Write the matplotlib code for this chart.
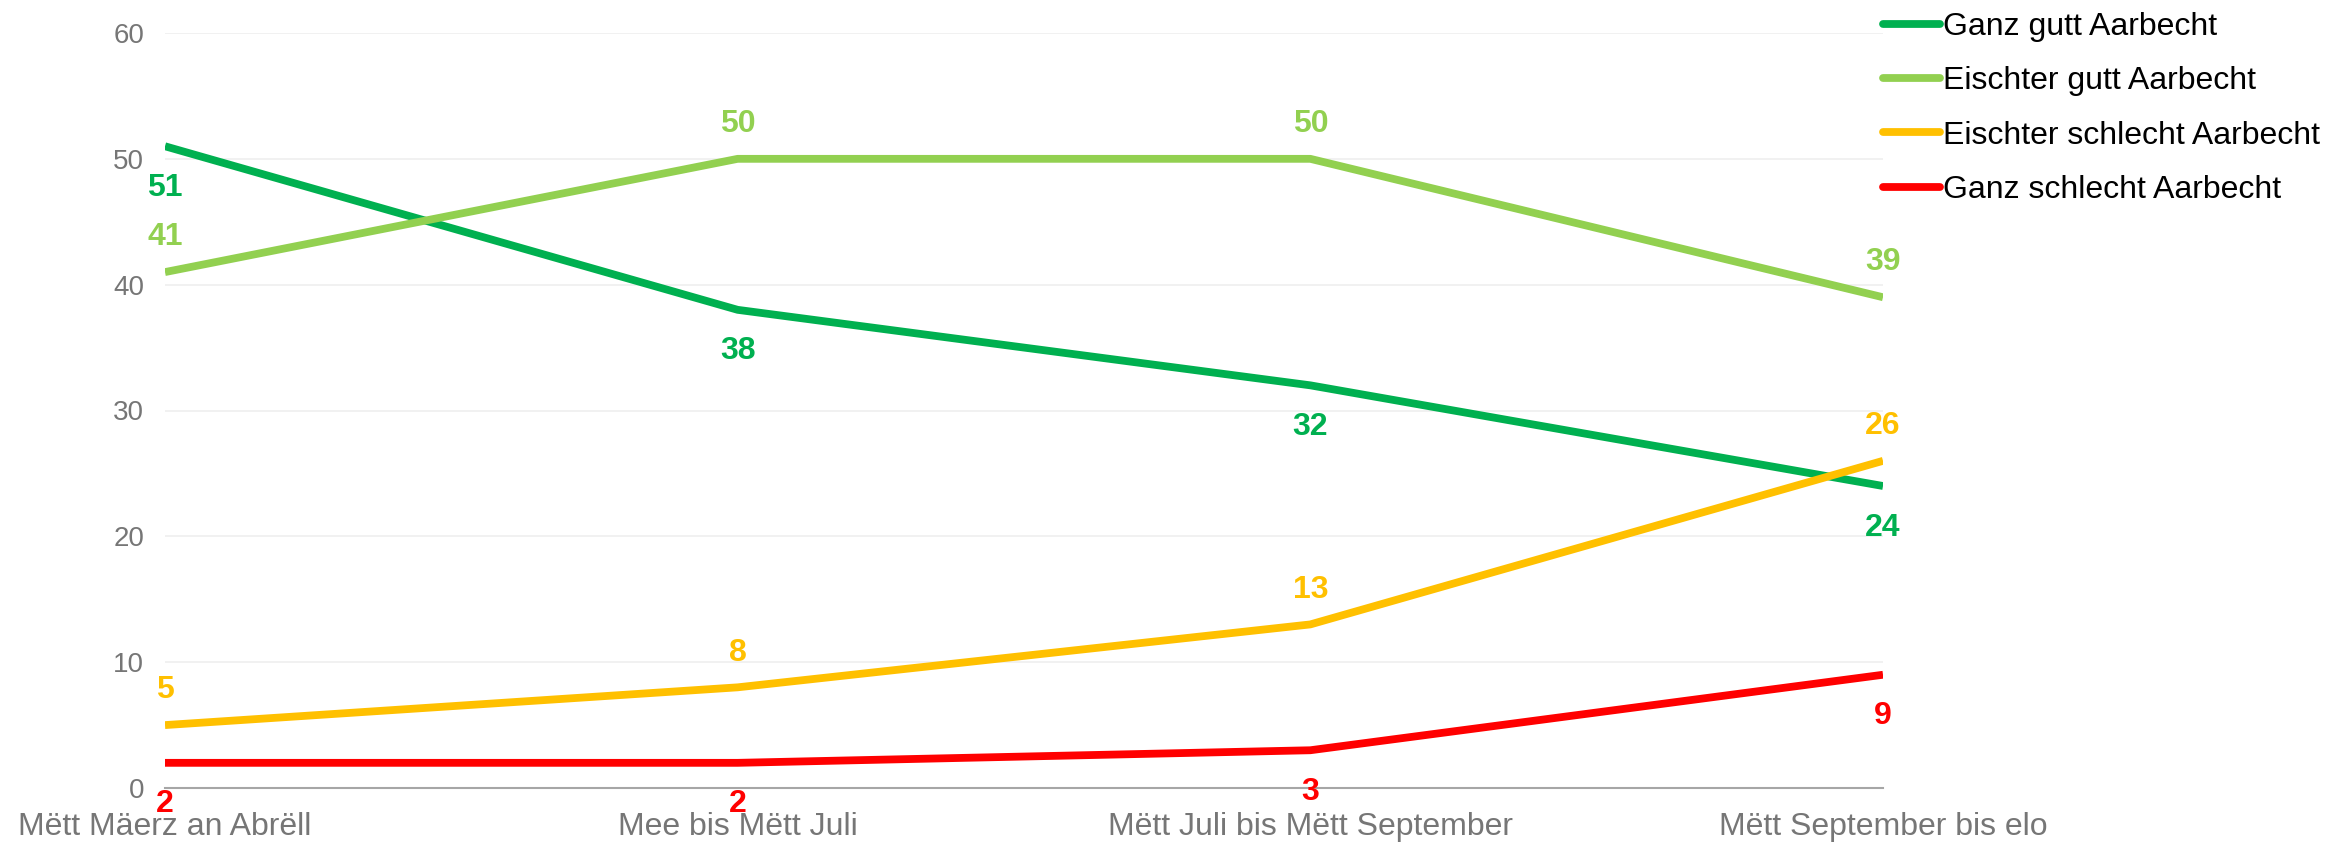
import matplotlib
matplotlib.use("Agg")
import matplotlib.pyplot as plt

plt.rcParams['font.family'] = ['Liberation Sans', 'DejaVu Sans']

periods = ['Mëtt Mäerz an Abrëll', 'Mee bis Mëtt Juli',
           'Mëtt Juli bis Mëtt September', 'Mëtt September bis elo']
series_names = ['Ganz gutt Aarbecht', 'Eischter gutt Aarbecht',
                'Eischter schlecht Aarbecht', 'Ganz schlecht Aarbecht']
ganz_gutt = [51, 38, 32, 24]
eischter_gutt = [41, 50, 50, 39]
eischter_schlecht = [5, 8, 13, 26]
ganz_schlecht = [2, 2, 3, 9]

series = [ganz_gutt, eischter_gutt, eischter_schlecht, ganz_schlecht]
colors = ['#00B050', '#92D050', '#FFC000', '#FF0000']
# label above (+1) or below (-1) the point
label_side = [-1, 1, 1, -1]

fig = plt.figure(figsize=(23.28, 8.43), dpi=100)
ax = fig.add_axes([165 / 2328, 1 - 788 / 843, (1883 - 165) / 2328, (788 - 33) / 843])

x = list(range(len(periods)))
lab_fs = 23
half_digit = 0.716 * lab_fs / 2  # points
for vals, col, name, side in zip(series, colors, series_names, label_side):
    ax.plot(x, vals, color=col, lw=5.6, label=name, solid_capstyle='butt', zorder=3)
    for xi, v in zip(x, vals):
        # digits centred ~27pt away from the point
        ax.annotate(str(v), (xi, v), xytext=(0, 27.5 * side - half_digit),
                    textcoords='offset points', ha='center', va='baseline',
                    fontsize=lab_fs, fontweight='bold', color=col, zorder=4,
                    annotation_clip=False)

ax.set_xlim(0, 3)
ax.set_ylim(0, 60)
ax.set_yticks(range(0, 61, 10))
ax.set_xticks(x)
ax.set_xticklabels(periods)
ax.tick_params(axis='both', length=0, colors='#767676', labelsize=20)
ax.tick_params(axis='x', pad=17, labelsize=23)
ax.tick_params(axis='y', pad=15)
ax.grid(axis='y', color='#efefef', lw=1.2, zorder=0)
ax.set_axisbelow(True)
for s in ['top', 'right', 'left']:
    ax.spines[s].set_visible(False)
ax.spines['bottom'].set_color('#a6a6a6')
ax.spines['bottom'].set_linewidth(1.5)

leg = fig.legend(loc='upper left', bbox_to_anchor=(1883 / 2328, 1 - 12 / 843),
                 frameon=False, fontsize=23, handlelength=1.78, handletextpad=0.1,
                 labelspacing=0.76, borderpad=0, borderaxespad=0)
for h in leg.get_lines():
    h.set_linewidth(5.6)
    h.set_solid_capstyle('round')

fig.savefig('out.png', dpi=100)
